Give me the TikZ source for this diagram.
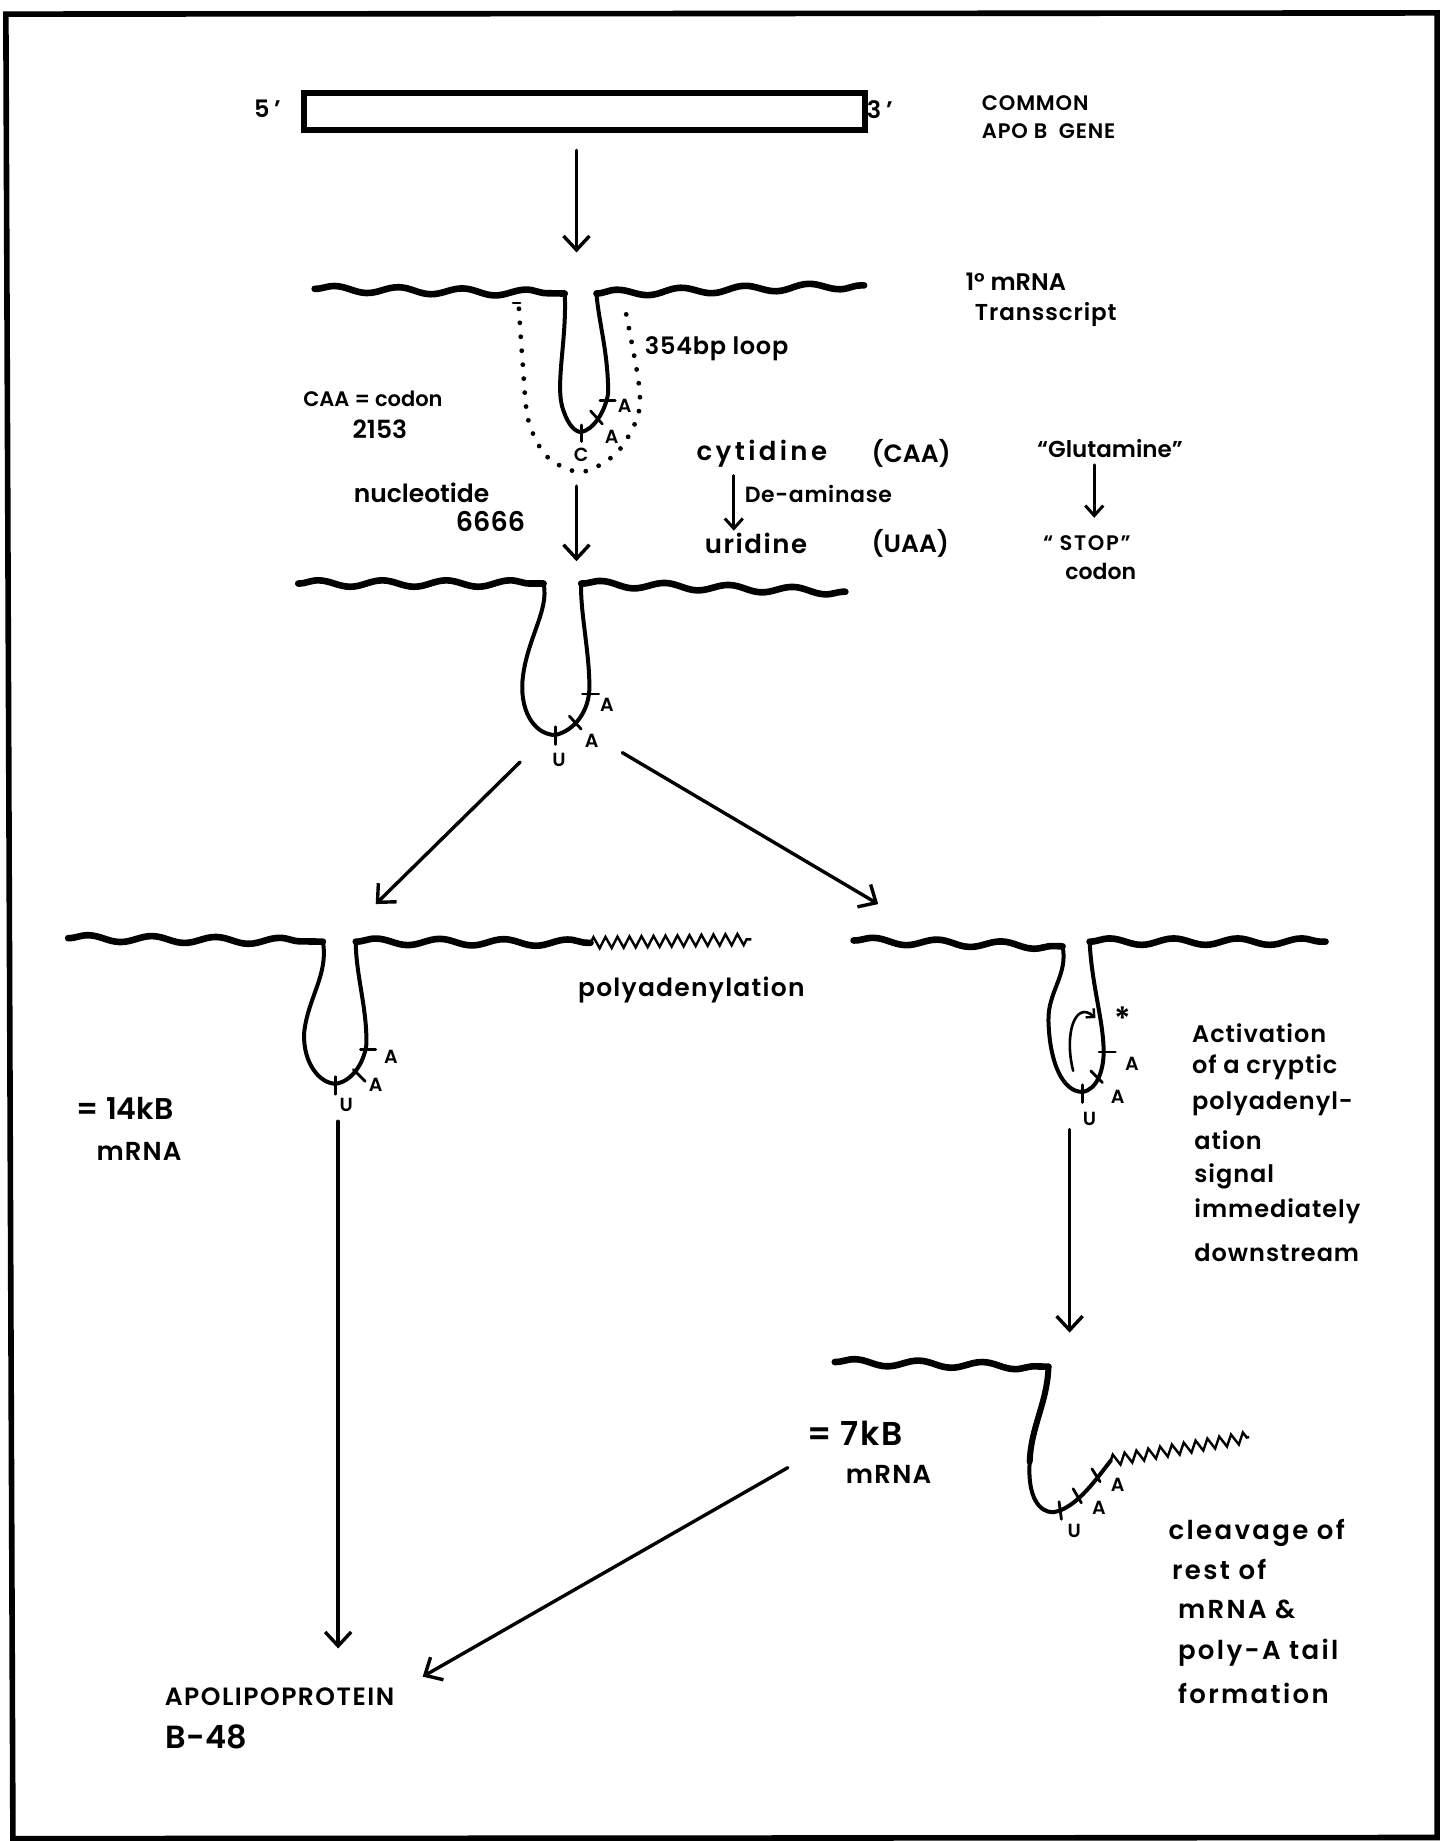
\documentclass[tikz,border=0pt]{standalone}
\usepackage{fontspec}
\setmainfont{Poppins}[UprightFont=* SemiBold,BoldFont=* Bold]
\usetikzlibrary{arrows.meta,decorations.pathmorphing}
\newcommand\myfs[1]{\fontsize{#1}{#1}\selectfont}
\newcommand\myls[1]{\addfontfeatures{LetterSpace=#1}}
\tikzset{
  txt/.style={anchor=west, inner sep=0pt, text=black},
  lab/.style={inner sep=0pt, font=\myfs{9.5}},
  wave/.style={line width=3.3pt, line cap=round, line join=round, decorate, decoration={snake, amplitude=1.6pt, segment length=32pt}},
  strand/.style={line width=2pt, line cap=round, line join=round},
  tail/.style={line width=1.2pt, line join=miter, decorate, decoration={zigzag, amplitude=2.8pt, segment length=6pt}},
  arr/.style={line width=1.7pt, line cap=round, line join=round, -{Straight Barb[length=7pt,width=13pt,line width=1.7pt]}},
  sarr/.style={line width=1.5pt, line cap=round, line join=round, -{Straight Barb[length=5pt,width=9pt,line width=1.5pt]}},
  tickmk/.style={line width=1.4pt, line cap=round},
  dots/.style={line width=2.4pt, line cap=round, dash pattern=on 0pt off 7pt},
  genebox/.style={draw, line width=3pt, minimum width=280.6pt, minimum height=18.8pt, inner sep=0pt},
}
\begin{document}
\begin{tikzpicture}[x=0.587pt,y=-0.587pt]
\useasboundingbox (0,0) rectangle (1230,1568);
% frame
\draw[line width=2.8pt, line join=miter] (5,12) -- (1224,11) -- (1224,1565) -- (11,1566) -- cycle;

% gene
\node[genebox] (gene) at (498,95) {};
\node[txt, font=\myls{20}\myfs{12}] (five) at (216,93) {5'};
\node[txt, font=\myls{20}\myfs{12}] (three) at (738,93) {3'};
\node[txt, font=\myls{4}\myfs{10.5}] (common) at (836,88) {COMMON};
\node[txt, font=\myls{4}\myfs{10.5}] (apob) at (836,112) {APO B\ \ GENE};

\coordinate (a1s) at (491,128);
\coordinate (a1e) at (491,215);
\draw[arr] (a1s) -- (a1e);

% primary transcript
\coordinate (m1L) at (268,246);
\coordinate (m1a) at (481,250);
\coordinate (m1b) at (508,250);
\coordinate (m1R) at (736,243);
\draw[wave] (m1L) -- (m1a);
\draw[wave] (m1b) -- (m1R);
\draw[strand] (m1a) .. controls (483,290) and (472,330) .. (480,350) .. controls (484,362) and (490,368) .. (495,368) .. controls (505,366) and (515,352) .. (518,335) .. controls (518,300) and (510,275) .. (m1b);
\draw[tickmk] (511,341) -- (524,341);
\draw[tickmk] (503,350) -- (513,361);
\draw[tickmk] (495,362) -- (495,376);
\node[lab] (l1a) at (532,346) {A};
\node[lab] (l1b) at (521,372) {A};
\node[lab] (l1c) at (495,387) {C};
\draw[dots] plot[smooth] coordinates {(442,263) (445,307) (450,358) (466,389) (495,402) (525,386) (543,355) (544,326) (532,261)};
\draw[tickmk] (437,258) -- (443,258);

\node[txt, font=\myfs{12}] (mrna1) at (822,240) {1° mRNA};
\node[txt, font=\myls{4}\myfs{11.5}] (transs) at (830,268) {Transscript};
\node[txt, font=\myls{3}\myfs{12}] (loop) at (549,297) {354bp loop};
\node[txt, font=\myfs{10.5}] (caa) at (258,340) {CAA = codon};
\node[txt, font=\myfs{12.5}] (n2153) at (300,366) {2153};
\node[txt, font=\myfs{12.5}] (nucl) at (301,420) {nucleotide};
\node[txt, font=\myfs{13.5}] (n6666) at (388,444) {6666};

\node[txt, font=\myls{13}\myfs{13}] (cyt) at (593,386) {cytidine};
\node[txt, font=\myfs{12.5}] (cyt2) at (742,386) {(CAA)};
\node[txt, font=\myls{3}\myfs{11}] (deam) at (634,421) {De-aminase};
\node[txt, font=\myls{6}\myfs{13}] (uri) at (600,463) {uridine};
\node[txt, font=\myfs{12.5}] (uri2) at (742,463) {(UAA)};
\coordinate (a2s) at (625,405);
\coordinate (a2e) at (625,452);
\draw[sarr] (a2s) -- (a2e);

\node[txt, font=\myfs{11.5}] (glu) at (883,382) {“Glutamine”};
\node[txt, font=\myls{8}\myfs{10.5}] (stop) at (888,463) {“ STOP”};
\node[txt, font=\myfs{11}] (codon) at (907,487) {codon};
\coordinate (a3s) at (932,396);
\coordinate (a3e) at (932,441);
\draw[sarr] (a3s) -- (a3e);

\coordinate (a4s) at (491,414);
\coordinate (a4e) at (491,478);
\draw[arr] (a4s) -- (a4e);

% edited transcript
\coordinate (m2L) at (254,497);
\coordinate (m2a) at (463,497);
\coordinate (m2b) at (495,497);
\coordinate (m2R) at (720,504);
\draw[wave] (m2L) -- (m2a);
\draw[wave] (m2b) -- (m2R);
\draw[strand] (m2a) .. controls (468,520) and (448,545) .. (445,580) .. controls (443,610) and (458,626) .. (473,626) .. controls (490,622) and (502,605) .. (502,585) .. controls (502,555) and (494,520) .. (m2b);
\draw[tickmk] (496,591) -- (510,591);
\draw[tickmk] (485,610) -- (495,621);
\draw[tickmk] (473,619) -- (473,634);
\node[lab] (l2a) at (517,600) {A};
\node[lab] (l2b) at (504,631) {A};
\node[lab] (l2c) at (476,647) {U};

\coordinate (a5s) at (443,649);
\coordinate (a5e) at (320,770);
\draw[arr] (a5s) -- (a5e);
\coordinate (a6s) at (530,641);
\coordinate (a6e) at (748,770);
\draw[arr] (a6s) -- (a6e);

% left branch
\coordinate (m3L) at (58,799);
\coordinate (m3a) at (275,802);
\coordinate (m3b) at (303,802);
\coordinate (m3R) at (503,803);
\coordinate (m3T) at (640,800);
\draw[wave] (m3L) -- (m3a);
\draw[wave] (m3b) -- (m3R);
\draw[tail] (m3R) -- (m3T);
\draw[strand] (m3a) .. controls (280,830) and (262,850) .. (259,880) .. controls (258,905) and (272,923) .. (286,923) .. controls (300,921) and (310,905) .. (312,890) .. controls (313,860) and (303,830) .. (m3b);
\draw[tickmk] (307,894) -- (320,894);
\draw[tickmk] (301,911) -- (311,921);
\draw[tickmk] (286,917) -- (286,932);
\node[lab] (l3a) at (333,900) {A};
\node[lab] (l3b) at (320,924) {A};
\node[lab] (l3c) at (295,941) {U};
\node[txt, font=\myls{5}\myfs{12.5}] (polya) at (492,843) {polyadenylation};
\node[txt, font=\myfs{15}] (kb14) at (65,944) {= 14kB};
\node[txt, font=\myls{4}\myfs{13}] (mrna14) at (82,981) {mRNA};

\coordinate (a7s) at (288,955);
\coordinate (a7e) at (288,1404);
\draw[arr] (a7s) -- (a7e);

% right branch
\coordinate (m4L) at (727,801);
\coordinate (m4a) at (905,806);
\coordinate (m4b) at (928,802);
\coordinate (m4R) at (1129,802);
\draw[wave] (m4L) -- (m4a);
\draw[wave] (m4b) -- (m4R);
\draw[strand] (m4a) .. controls (910,830) and (892,845) .. (893,870) .. controls (894,905) and (905,930) .. (922,930) .. controls (935,928) and (940,910) .. (940,896) .. controls (940,870) and (930,840) .. (m4b);
\draw[tickmk] (936,896) -- (950,896);
\draw[tickmk] (929,912) -- (939,922);
\draw[tickmk] (922,924) -- (922,939);
\node[lab] (l4a) at (964,906) {A};
\node[lab] (l4b) at (952,934) {A};
\node[lab] (l4c) at (928,953) {U};
\coordinate (ca1) at (914,912);
\coordinate (ca2) at (933,867);
\draw[line width=1.3pt, line cap=round, -{Straight Barb[length=3pt,width=6pt,line width=1.2pt]}] (ca1) .. controls (906,880) and (916,852) .. (ca2);
\node[lab, font=\myfs{16}] (star) at (956,868) {*};

\node[txt, font=\myls{4}\myfs{12}] (act1) at (1015,880) {Activation};
\node[txt, font=\myls{4}\myfs{12}] (act2) at (1015,909) {of a cryptic};
\node[txt, font=\myls{4}\myfs{12}] (act3) at (1015,940) {polyadenyl-};
\node[txt, font=\myls{4}\myfs{12}] (act4) at (1017,971) {ation};
\node[txt, font=\myls{4}\myfs{12}] (act5) at (1017,1002) {signal};
\node[txt, font=\myls{4}\myfs{12}] (act6) at (1017,1032) {immediately};
\node[txt, font=\myls{4}\myfs{12}] (act7) at (1017,1067) {downstream};

\coordinate (a8s) at (911,962);
\coordinate (a8e) at (911,1135);
\draw[arr] (a8s) -- (a8e);

% cleaved transcript
\coordinate (m5L) at (711,1160);
\coordinate (m5a) at (893,1164);
\coordinate (m5m) at (877,1245);
\coordinate (m5b) at (946,1244);
\coordinate (m5T) at (1064,1224);
\draw[wave] (m5L) -- (m5a);
\draw[line width=3pt, line cap=round] (m5a) .. controls (892,1195) and (878,1215) .. (m5m);
\draw[strand] (m5m) .. controls (875,1275) and (885,1288) .. (897,1288) .. controls (915,1285) and (930,1265) .. (m5b);
\draw[tail] (m5b) -- (m5T);
\draw[tickmk] (902,1279) -- (904,1294);
\draw[tickmk] (914,1268) -- (921,1280);
\draw[tickmk] (930,1251) -- (937,1262);
\node[lab] (l5a) at (915,1304) {U};
\node[lab] (l5b) at (936,1284) {A};
\node[lab] (l5c) at (952,1265) {A};
\node[txt, font=\myls{5}\myfs{16.5}] (kb7) at (687,1221) {= 7kB};
\node[txt, font=\myls{5}\myfs{13}] (mrna7) at (720,1256) {mRNA};

\node[txt, font=\myls{9}\myfs{13}] (clv1) at (995,1306) {cleavage of};
\node[txt, font=\myls{9}\myfs{13}] (clv2) at (998,1337) {rest of};
\node[txt, font=\myls{9}\myfs{13}] (clv3) at (1003,1371) {mRNA \&};
\node[txt, font=\myls{9}\myfs{13}] (clv4) at (1003,1408) {poly-A tail};
\node[txt, font=\myls{9}\myfs{13}] (clv5) at (1003,1442) {formation};

\coordinate (a9s) at (671,1250);
\coordinate (a9e) at (360,1428);
\draw[arr] (a9s) -- (a9e);

\node[txt, font=\myls{6}\myfs{12.5}] (apo) at (140,1445) {APOLIPOPROTEIN};
\node[txt, font=\myfs{16}] (b48) at (141,1479) {B-48};
\end{tikzpicture}
\end{document}
